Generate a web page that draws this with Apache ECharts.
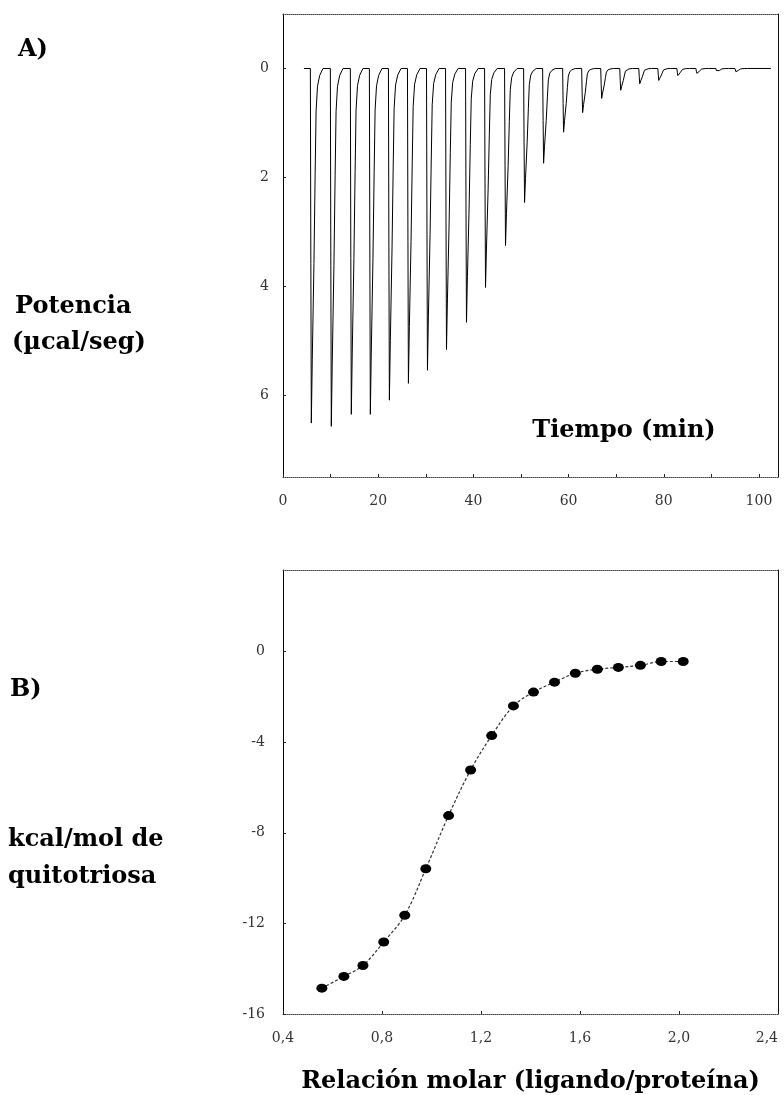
<!DOCTYPE html>
<html>
<head>
<meta charset="utf-8">
<script src="https://cdn.jsdelivr.net/npm/echarts@6/dist/echarts.min.js"></script>
<style>
  html, body { margin: 0; padding: 0; background: #fff; }
  #chart { width: 784px; height: 1095px; }
</style>
</head>
<body>
<div id="chart"></div>
<script>
// A) Raw thermogram: injection times (min) and depth of each injection peak (µcal/seg)
const injectionTimes = [5.8, 10.0, 14.2, 18.2, 22.2, 26.2, 30.2, 34.2, 38.4, 42.4, 46.6, 50.6,
                        54.6, 58.8, 62.8, 66.8, 70.8, 74.8, 78.8, 82.8, 86.8, 91.0, 95.0];
const peakDepths = [6.51, 6.57, 6.35, 6.35, 6.09, 5.78, 5.54, 5.16, 4.66, 4.02, 3.25, 2.46,
                    1.74, 1.17, 0.81, 0.55, 0.40, 0.28, 0.22, 0.13, 0.09, 0.07, 0.06];
// Profile of a single peak: minutes after the injection and fraction of the peak depth
const peakOffsets   = [-0.05, 0.05, 0.15, 0.35, 0.70, 0.95, 1.15, 1.45, 1.90, 2.60];
const peakFractions = [0.00, 0.55, 1.00, 0.82, 0.55, 0.30, 0.12, 0.05, 0.02, 0.00];
const baselineStart = 4.4;
const baselineEnd = 102.5;
const timeLabels = [0, 20, 40, 60, 80, 100];
const timeTicks = [0, 10, 20, 30, 40, 50, 60, 70, 80, 90, 100];
const powerLabels = [0, 2, 4, 6];

// B) Integrated heat per injection versus ligand/protein molar ratio
const molarRatio = [0.557, 0.646, 0.723, 0.807, 0.892, 0.977, 1.069, 1.158, 1.243,
                    1.331, 1.412, 1.497, 1.581, 1.670, 1.755, 1.844, 1.928, 2.017];
const heat = [-14.86, -14.34, -13.86, -12.82, -11.64, -9.59, -7.24, -5.23, -3.71,
              -2.40, -1.79, -1.35, -0.96, -0.78, -0.70, -0.61, -0.44, -0.44];
const ratioLabels = [0.4, 0.8, 1.2, 1.6, 2.0, 2.4];
const heatLabels = [0, -4, -8, -12, -16];

// Assemble the thermogram trace from the injections
const thermogram = [[baselineStart, 0]];
injectionTimes.forEach((t, i) => {
  peakOffsets.forEach((o, k) => {
    thermogram.push([t + o, peakDepths[i] * peakFractions[k]]);
  });
});
thermogram.push([baselineEnd, 0]);

const isotherm = molarRatio.map((x, i) => [x, heat[i]]);

const tickFont = { fontFamily: '"DejaVu Serif", serif', fontSize: 14, color: '#333' };
const boldFont = 'bold 24px "DejaVu Serif", serif';

function frameAxis(gridIndex, position, dotted) {
  return {
    gridIndex: gridIndex,
    type: 'value',
    position: position,
    axisLine: { show: true, onZero: false, lineStyle: { color: dotted ? '#444' : '#111', width: 1, type: dotted ? 'dotted' : 'solid' } },
    axisTick: { show: false },
    axisLabel: { show: false },
    splitLine: { show: false }
  };
}

const chart = echarts.init(document.getElementById('chart'), null, { renderer: 'canvas' });

chart.setOption({
  animation: false,
  backgroundColor: '#ffffff',
  grid: [
    { left: 283, right: 6, top: 14, height: 463 },
    { left: 283, right: 6, top: 570, height: 450 }
  ],
  xAxis: [
    {
      gridIndex: 0, type: 'value', min: 0, max: 104, position: 'bottom',
      axisLine: { show: true, onZero: false, lineStyle: { color: '#444', width: 1, type: 'dotted' } },
      axisTick: { show: true, inside: true, length: 3, customValues: timeTicks, lineStyle: { color: '#222' } },
      axisLabel: Object.assign({ customValues: timeLabels, margin: 17 }, tickFont),
      splitLine: { show: false }
    },
    Object.assign(frameAxis(0, 'top', true), { min: 0, max: 104 }),
    {
      gridIndex: 1, type: 'value', min: 0.4, max: 2.4, position: 'bottom',
      axisLine: { show: true, onZero: false, lineStyle: { color: '#444', width: 1, type: 'dotted' } },
      axisTick: { show: true, inside: true, length: 3, customValues: ratioLabels, lineStyle: { color: '#222' } },
      axisLabel: Object.assign({
        customValues: ratioLabels, margin: 17, alignMaxLabel: 'right',
        formatter: v => v.toFixed(1).replace('.', ',')
      }, tickFont),
      splitLine: { show: false },
      name: 'Relación molar (ligando/proteína)',
      nameLocation: 'middle',
      nameGap: 56,
      nameTextStyle: { fontFamily: '"DejaVu Serif", serif', fontWeight: 'bold', fontSize: 24, color: '#000' }
    },
    Object.assign(frameAxis(1, 'top', true), { min: 0.4, max: 2.4 })
  ],
  yAxis: [
    {
      gridIndex: 0, type: 'value', min: -1, max: 7.5, inverse: true, position: 'left',
      axisLine: { show: true, onZero: false, lineStyle: { color: '#000', width: 1 } },
      axisTick: { show: true, inside: true, length: 3, customValues: powerLabels, lineStyle: { color: '#222' } },
      axisLabel: Object.assign({ customValues: powerLabels, margin: 14 }, tickFont),
      splitLine: { show: false }
    },
    Object.assign(frameAxis(0, 'right', false), { min: -1, max: 7.5, inverse: true }),
    {
      gridIndex: 1, type: 'value', min: -16, max: 3.6, position: 'left',
      axisLine: { show: true, onZero: false, lineStyle: { color: '#000', width: 1 } },
      axisTick: { show: true, inside: true, length: 3, customValues: heatLabels, lineStyle: { color: '#222' } },
      axisLabel: Object.assign({ customValues: heatLabels, margin: 18 }, tickFont),
      splitLine: { show: false }
    },
    Object.assign(frameAxis(1, 'right', false), { min: -16, max: 3.6 })
  ],
  series: [
    {
      name: 'Potencia',
      type: 'line',
      xAxisIndex: 0, yAxisIndex: 0,
      data: thermogram,
      showSymbol: false,
      symbol: 'none',
      lineStyle: { color: '#000', width: 1 },
      silent: true
    },
    {
      name: 'Calor integrado',
      type: 'line',
      xAxisIndex: 2, yAxisIndex: 2,
      data: isotherm,
      smooth: 0.35,
      symbol: 'circle',
      symbolSize: [11, 9],
      itemStyle: { color: '#000' },
      lineStyle: { color: '#333', width: 1.2, type: [3, 2] },
      silent: true
    }
  ],
  graphic: [
    { type: 'text', x: 18, y: 50, style: { text: 'A)', font: boldFont, fill: '#000', verticalAlign: 'middle' } },
    { type: 'text', x: 15, y: 307, style: { text: 'Potencia', font: boldFont, fill: '#000', verticalAlign: 'middle' } },
    { type: 'text', x: 12, y: 343, style: { text: '(µcal/seg)', font: boldFont, fill: '#000', verticalAlign: 'middle' } },
    { type: 'text', x: 624, y: 431, style: { text: 'Tiempo (min)', font: boldFont, fill: '#000', align: 'center', verticalAlign: 'middle' } },
    { type: 'text', x: 10, y: 690, style: { text: 'B)', font: boldFont, fill: '#000', verticalAlign: 'middle' } },
    { type: 'text', x: 8, y: 840, style: { text: 'kcal/mol de', font: boldFont, fill: '#000', verticalAlign: 'middle' } },
    { type: 'text', x: 8, y: 877, style: { text: 'quitotriosa', font: boldFont, fill: '#000', verticalAlign: 'middle' } }
  ]
});
</script>
</body>
</html>
